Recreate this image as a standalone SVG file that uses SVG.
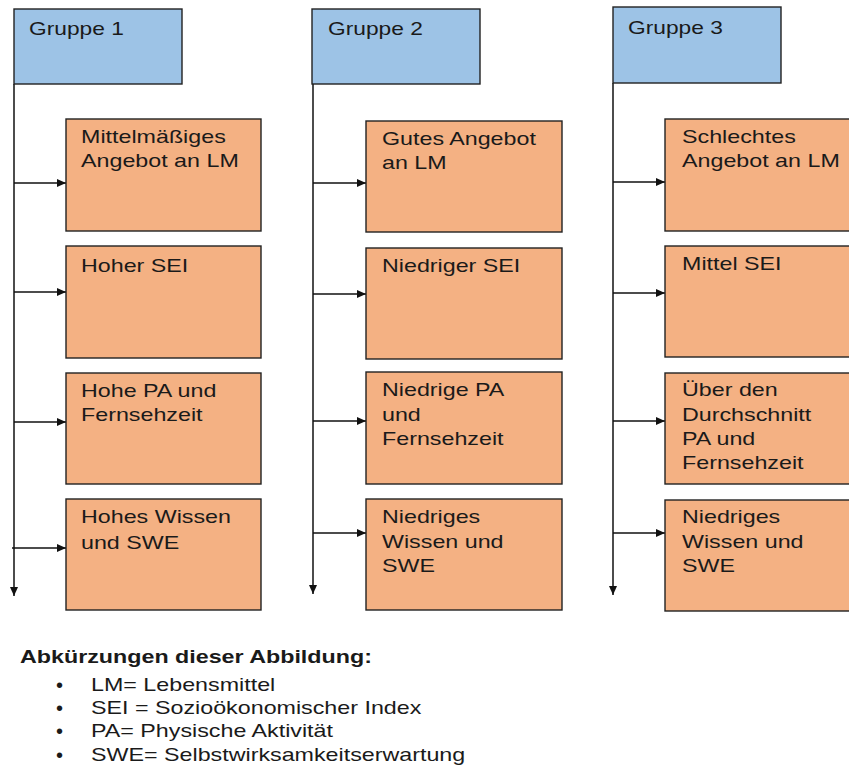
<svg xmlns="http://www.w3.org/2000/svg" width="849" height="772" viewBox="0 0 849 772">
<defs>
<style>
.hdr{fill:#9dc3e6;stroke:#222;stroke-width:1.4}
.box{fill:#f4b183;stroke:#222;stroke-width:1.4}
.t{font-family:"Liberation Sans",Arial,sans-serif;font-size:17.5px;fill:#1a1a1a}
.b{font-weight:bold}
.bul{font-family:"Liberation Sans",Arial,sans-serif;font-size:20px;fill:#1a1a1a}
.ca{stroke:#111;stroke-width:1.5;fill:none;marker-end:url(#ah)}
</style>
<marker id="ah" markerUnits="userSpaceOnUse" markerWidth="9" markerHeight="8" refX="9" refY="4" orient="auto">
<path d="M0,0 L9,4 L0,8 z" fill="#111"/>
</marker>
</defs>
<rect width="849" height="772" fill="#fff"/>

<g id="connectors">
<line class="ca" x1="14" y1="84" x2="14" y2="596"/>
<line class="ca" x1="313" y1="84" x2="313" y2="594"/>
<line class="ca" x1="613" y1="83" x2="613" y2="595"/>
<line class="ca" x1="14" y1="183" x2="66" y2="183"/>
<line class="ca" x1="14" y1="292" x2="66" y2="292"/>
<line class="ca" x1="14" y1="422" x2="66" y2="422"/>
<line class="ca" x1="12" y1="548" x2="66" y2="548"/>
<line class="ca" x1="313" y1="183" x2="366" y2="183"/>
<line class="ca" x1="313" y1="294" x2="366" y2="294"/>
<line class="ca" x1="313" y1="421" x2="366" y2="421"/>
<line class="ca" x1="313" y1="533" x2="366" y2="533"/>
<line class="ca" x1="613" y1="182" x2="665" y2="182"/>
<line class="ca" x1="613" y1="293" x2="665" y2="293"/>
<line class="ca" x1="613" y1="421" x2="665" y2="421"/>
<line class="ca" x1="613" y1="533" x2="665" y2="533"/>
</g>

<g id="g1">
<rect class="hdr" x="14" y="9" width="168" height="75"/>
<text class="t" transform="translate(29,35) scale(1.3,1)">Gruppe 1</text>
</g>
<g id="g2">
<rect class="hdr" x="312" y="9" width="168" height="75"/>
<text class="t" transform="translate(328,35) scale(1.3,1)">Gruppe 2</text>
</g>
<g id="g3">
<rect class="hdr" x="613" y="7" width="168" height="76"/>
<text class="t" transform="translate(628,34) scale(1.3,1)">Gruppe 3</text>
</g>

<g id="g1a">
<rect class="box" x="66" y="119" width="195" height="112"/>
<text class="t" transform="translate(81,143) scale(1.33,1)"><tspan x="0" y="0">Mittelmäßiges</tspan><tspan x="0" y="24">Angebot an LM</tspan></text>
</g>
<g id="g1b">
<rect class="box" x="66" y="246" width="195" height="112"/>
<text class="t" transform="translate(81,272) scale(1.33,1)">Hoher SEI</text>
</g>
<g id="g1c">
<rect class="box" x="66" y="373" width="195" height="111"/>
<text class="t" transform="translate(81,397) scale(1.33,1)"><tspan x="0" y="0">Hohe PA und</tspan><tspan x="0" y="24">Fernsehzeit</tspan></text>
</g>
<g id="g1d">
<rect class="box" x="66" y="499" width="195" height="111"/>
<text class="t" transform="translate(81,523) scale(1.33,1)"><tspan x="0" y="0">Hohes Wissen</tspan><tspan x="0" y="26">und SWE</tspan></text>
</g>

<g id="g2a">
<rect class="box" x="366" y="121" width="196" height="111"/>
<text class="t" transform="translate(382,145) scale(1.33,1)"><tspan x="0" y="0">Gutes Angebot</tspan><tspan x="0" y="24">an LM</tspan></text>
</g>
<g id="g2b">
<rect class="box" x="366" y="248" width="196" height="111"/>
<text class="t" transform="translate(382,272) scale(1.33,1)">Niedriger SEI</text>
</g>
<g id="g2c">
<rect class="box" x="366" y="372" width="196" height="112"/>
<text class="t" transform="translate(382,396) scale(1.33,1)"><tspan x="0" y="0">Niedrige PA</tspan><tspan x="0" y="25">und</tspan><tspan x="0" y="49">Fernsehzeit</tspan></text>
</g>
<g id="g2d">
<rect class="box" x="366" y="499" width="196" height="111"/>
<text class="t" transform="translate(382,523) scale(1.33,1)"><tspan x="0" y="0">Niedriges</tspan><tspan x="0" y="25">Wissen und</tspan><tspan x="0" y="49">SWE</tspan></text>
</g>

<g id="g3a">
<rect class="box" x="665" y="119" width="196" height="112"/>
<text class="t" transform="translate(682,143) scale(1.33,1)"><tspan x="0" y="0">Schlechtes</tspan><tspan x="0" y="24">Angebot an LM</tspan></text>
</g>
<g id="g3b">
<rect class="box" x="665" y="246" width="196" height="111"/>
<text class="t" transform="translate(682,270) scale(1.33,1)">Mittel SEI</text>
</g>
<g id="g3c">
<rect class="box" x="665" y="373" width="196" height="111"/>
<text class="t" transform="translate(682,396) scale(1.33,1)"><tspan x="0" y="0">Über den</tspan><tspan x="0" y="25">Durchschnitt</tspan><tspan x="0" y="49">PA und</tspan><tspan x="0" y="73">Fernsehzeit</tspan></text>
</g>
<g id="g3d">
<rect class="box" x="665" y="500" width="196" height="111"/>
<text class="t" transform="translate(682,523) scale(1.33,1)"><tspan x="0" y="0">Niedriges</tspan><tspan x="0" y="25">Wissen und</tspan><tspan x="0" y="49">SWE</tspan></text>
</g>

<g id="legend">
<text class="t b" transform="translate(20,663) scale(1.33,1)">Abkürzungen dieser Abbildung:</text>
<text class="bul" x="56" y="692">•</text>
<text class="bul" x="56" y="715">•</text>
<text class="bul" x="56" y="738">•</text>
<text class="bul" x="56" y="762">•</text>
<text class="t" transform="translate(91,691) scale(1.33,1)">LM= Lebensmittel</text>
<text class="t" transform="translate(91,714) scale(1.33,1)">SEI = Sozioökonomischer Index</text>
<text class="t" transform="translate(91,737) scale(1.33,1)">PA= Physische Aktivität</text>
<text class="t" transform="translate(91,761) scale(1.33,1)">SWE= Selbstwirksamkeitserwartung</text>
</g>
</svg>
